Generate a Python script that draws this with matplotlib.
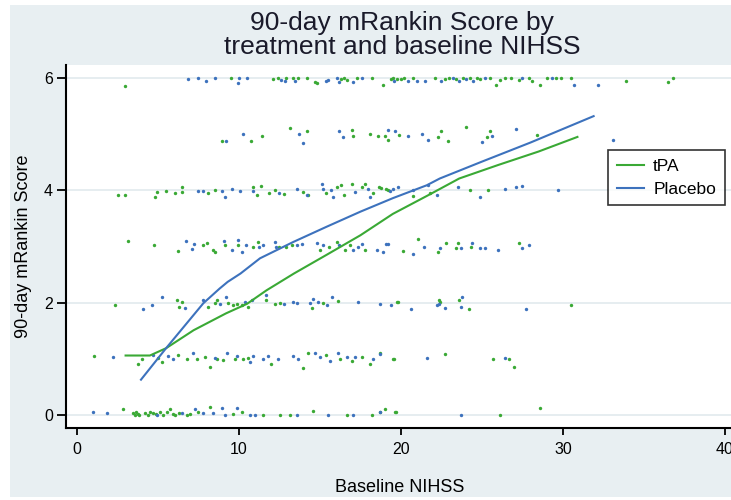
import matplotlib
matplotlib.use('Agg')
import matplotlib.pyplot as plt
from matplotlib.patches import Rectangle
import numpy as np

# jittered outcome points (baseline NIHSS, 90-day mRankin)
tpa_pts = [
    # mRS 6
    (2.96, 5.86), (9.49, 6.0), (12.1, 5.98), (12.4, 6.0), (12.9, 6.0), (13.35, 6.0), (13.66, 6.0),
    (14.18, 6.0), (14.7, 5.92), (14.83, 5.91), (16.3, 5.98), (16.5, 6.0), (16.7, 5.96), (17.26, 6.0),
    (18.2, 6.0), (18.9, 5.87), (19.5, 6.0), (19.73, 5.98), (19.4, 5.98), (20.0, 5.98), (20.2, 6.0),
    (20.76, 6.0), (22.1, 6.0), (22.7, 5.98), (23.0, 6.0), (23.4, 5.98), (23.85, 6.0), (24.26, 6.0),
    (24.7, 6.0), (24.9, 5.98), (25.5, 6.0), (25.9, 5.88), (26.1, 5.96), (26.4, 6.0), (26.8, 6.0),
    (27.3, 5.96), (27.9, 6.0), (28.1, 5.95), (28.6, 5.88), (29.0, 6.0), (29.6, 6.0), (29.9, 6.0),
    (30.5, 6.0), (33.9, 5.95), (36.5, 5.92), (36.8, 6.0),
    # mRS 5
    (8.93, 4.88), (10.76, 4.88), (11.44, 4.97), (13.15, 5.11), (14.22, 5.06), (16.95, 5.07),
    (17.06, 4.96), (18.09, 5.0), (18.6, 4.96), (19.2, 4.89), (19.0, 4.96), (19.9, 4.98), (22.3, 4.95),
    (22.5, 5.06), (22.9, 4.88), (24.0, 5.13), (25.3, 4.95), (25.5, 5.06), (28.4, 4.98),
    # mRS 4
    (2.55, 3.91), (2.96, 3.91), (4.92, 3.97), (4.82, 3.88), (5.5, 3.98), (6.05, 3.95), (6.46, 4.06),
    (6.46, 3.97), (8.1, 3.96), (8.5, 4.0), (10.84, 4.06), (11.1, 3.92), (11.35, 4.07), (11.87, 3.96),
    (12.2, 4.01), (12.78, 3.94), (13.97, 3.97), (14.28, 3.92), (15.4, 3.95), (16.03, 4.06), (16.3, 4.09),
    (16.5, 3.92), (16.95, 4.12), (17.57, 4.06), (17.78, 4.12), (18.3, 3.96), (18.66, 4.05), (18.8, 4.04),
    (19.2, 4.0), (19.1, 4.03), (20.76, 3.9), (21.8, 3.96), (24.26, 4.0), (25.4, 4.0),
    # mRS 3
    (3.17, 3.1), (4.77, 3.02), (6.21, 2.92), (7.8, 3.02), (8.0, 3.07), (8.42, 2.93), (8.52, 2.9),
    (9.14, 3.02), (9.96, 3.02), (10.88, 3.0), (11.15, 3.08), (12.5, 2.99), (12.9, 2.99), (13.25, 3.02),
    (15.0, 2.93), (15.57, 2.99), (16.03, 3.08), (16.55, 2.93), (16.85, 3.02), (17.78, 2.93), (20.1, 2.92),
    (21.07, 3.13), (22.3, 2.91), (22.8, 3.07), (23.4, 2.97), (23.5, 3.06), (24.3, 2.99), (27.3, 3.06),
    # mRS 2
    (2.35, 1.96), (6.15, 2.05), (6.46, 2.02), (6.3, 1.93), (8.1, 1.93), (8.52, 1.99), (8.62, 2.05),
    (9.34, 2.0), (9.65, 1.96), (9.86, 1.97), (10.17, 1.96), (10.57, 1.93), (11.67, 2.05), (12.22, 1.97),
    (12.53, 2.0), (14.49, 1.9), (15.2, 2.0), (16.13, 2.03), (19.73, 2.02), (19.8, 2.02), (22.36, 2.05),
    (22.4, 2.01), (23.6, 2.05), (24.2, 1.89), (30.5, 1.96),
    # mRS 1
    (1.05, 1.05), (3.79, 0.91), (4.0, 1.0), (5.02, 1.02), (5.23, 0.94), (6.26, 1.07), (6.77, 0.99),
    (7.39, 0.99), (7.9, 1.03), (8.2, 0.85), (8.62, 0.99), (9.03, 0.98), (9.75, 0.99), (10.27, 1.0),
    (10.57, 1.02), (12.0, 0.91), (13.97, 0.83), (14.28, 1.1), (15.4, 1.07), (16.23, 0.99), (16.95, 0.96),
    (17.57, 1.03), (18.1, 0.91), (19.5, 0.99), (18.7, 1.1), (19.6, 0.99), (22.7, 1.08), (25.7, 1.0),
    (26.7, 1.0), (27.0, 0.85),
    # mRS 0
    (2.82, 0.1), (3.45, 0.03), (3.55, 0.0), (3.65, 0.05), (3.75, 0.02), (3.85, 0.0), (4.2, 0.04),
    (4.4, 0.01), (4.51, 0.06), (4.71, 0.03), (4.9, 0.02), (5.12, 0.05), (5.33, 0.0), (5.53, 0.06),
    (5.74, 0.1), (5.9, 0.02), (6.05, 0.0), (6.3, 0.04), (6.77, 0.0), (7.0, 0.02), (7.49, 0.05),
    (8.2, 0.14), (9.65, 0.02), (10.17, 0.05), (11.5, 0.0), (12.53, 0.0), (13.15, 0.0), (14.59, 0.08),
    (16.65, 0.0), (18.2, 0.0), (18.7, 0.05), (19.0, 0.1), (19.63, 0.05), (19.7, 0.06), (26.1, 0.0),
    (28.6, 0.13),
]

placebo_pts = [
    # mRS 6
    (6.83, 5.98), (7.45, 6.0), (7.96, 5.94), (8.52, 6.0), (10.0, 6.0), (9.92, 5.91), (10.47, 6.0),
    (12.6, 5.97), (12.84, 5.94), (13.46, 5.95), (15.35, 5.94), (15.5, 5.97), (16.03, 6.0), (16.2, 5.93),
    (17.06, 5.93), (17.57, 6.0), (19.6, 5.95), (20.45, 5.95), (21.0, 5.94), (21.48, 5.95), (22.5, 5.95),
    (23.2, 6.0), (23.6, 5.94), (24.05, 5.98), (24.47, 5.94), (25.2, 6.0), (27.5, 6.0), (29.3, 6.0),
    (30.7, 5.88), (32.2, 5.88),
    # mRS 5
    (9.2, 4.88), (10.23, 5.0), (13.73, 5.0), (13.97, 4.85), (16.2, 5.05), (16.4, 4.95), (19.2, 5.07),
    (19.63, 5.06), (20.45, 4.97), (21.3, 5.0), (21.7, 4.89), (24.98, 4.86), (25.6, 4.97), (27.1, 5.09),
    (33.1, 4.9),
    # mRS 4
    (7.49, 3.98), (7.8, 3.98), (8.93, 3.98), (9.14, 3.88), (9.55, 4.03), (10.06, 3.99), (10.88, 3.99),
    (12.5, 3.95), (13.56, 4.03), (14.18, 3.92), (15.1, 4.12), (15.2, 4.03), (15.66, 4.0), (15.82, 3.88),
    (17.16, 3.97), (17.98, 4.03), (18.09, 3.88), (19.5, 4.03), (19.3, 3.99), (19.83, 4.06), (20.76, 4.0),
    (21.7, 4.09), (22.2, 3.92), (23.5, 4.06), (24.9, 3.88), (26.4, 4.03), (27.1, 4.05), (27.5, 4.07),
    (29.7, 4.0),
    # mRS 3
    (6.73, 3.1), (7.08, 2.96), (7.22, 3.05), (9.07, 3.1), (9.55, 2.93), (9.92, 3.11), (10.2, 2.9),
    (10.44, 3.02), (11.25, 3.0), (11.46, 3.02), (12.2, 3.08), (12.28, 2.99), (13.56, 3.02), (13.87, 3.04),
    (14.8, 3.06), (15.2, 3.02), (16.2, 3.02), (17.06, 2.93), (17.37, 3.0), (17.57, 3.05), (18.5, 2.93),
    (18.9, 2.9), (19.2, 3.04), (19.1, 3.04), (20.76, 2.87), (21.4, 3.0), (22.4, 2.98), (23.7, 2.97),
    (24.4, 3.06), (24.9, 2.98), (25.2, 2.97), (26.0, 2.93), (27.5, 2.97), (27.9, 3.03),
    # mRS 2
    (4.1, 1.88), (4.61, 1.96), (5.23, 2.1), (6.67, 1.91), (7.8, 2.05), (8.83, 1.98), (9.2, 2.11),
    (10.37, 2.02), (10.78, 2.05), (11.7, 2.14), (12.78, 1.98), (13.35, 2.02), (13.56, 1.99), (14.38, 2.0),
    (14.6, 2.07), (14.9, 2.02), (15.41, 1.96), (15.72, 2.11), (17.37, 2.02), (19.4, 1.96), (18.7, 1.98),
    (20.6, 1.89), (22.2, 1.96), (22.36, 1.98), (22.7, 1.91), (23.7, 1.92), (23.75, 2.1), (27.7, 1.89),
    # mRS 1
    (2.2, 1.03), (4.71, 1.07), (5.64, 1.06), (5.95, 0.99), (7.18, 1.1), (8.52, 1.01), (9.24, 1.1),
    (9.86, 1.06), (10.68, 0.94), (10.88, 1.05), (11.5, 1.0), (11.81, 1.06), (12.43, 0.99), (13.35, 1.05),
    (13.66, 0.99), (14.7, 1.11), (15.0, 1.03), (15.62, 0.96), (16.13, 1.11), (16.65, 1.04), (17.16, 1.04),
    (18.3, 1.0), (18.7, 1.08), (21.6, 1.02), (26.4, 1.02),
    # mRS 0
    (0.97, 0.06), (1.83, 0.03), (4.92, 0.0), (6.46, 0.03), (7.28, 0.1), (7.8, 0.03), (8.42, 0.03),
    (8.93, 0.12), (9.14, 0.0), (9.86, 0.12), (10.68, 0.0), (10.99, 0.0), (13.56, 0.0), (15.5, 0.0),
    (17.06, 0.0), (18.7, 0.05), (23.7, 0.0),
]

# smoothed curves
tpa_line_x = [3.0, 4.5, 5.5, 7.2, 9.2, 10.5, 11.7, 13.4, 15.4, 17.5, 19.5, 21.8, 23.6, 26.0, 28.5, 30.9]
tpa_line_y = [1.06, 1.06, 1.19, 1.51, 1.81, 1.98, 2.22, 2.52, 2.85, 3.2, 3.58, 3.93, 4.21, 4.45, 4.69, 4.95]
placebo_line_x = [3.95, 5.5, 7.8, 8.8, 9.3, 10.1, 11.3, 13.35, 15.4, 17.5, 19.5, 21.6, 22.4, 25.0, 28.0, 31.9]
placebo_line_y = [0.63, 1.19, 1.99, 2.25, 2.37, 2.52, 2.79, 3.08, 3.35, 3.62, 3.86, 4.09, 4.21, 4.51, 4.85, 5.32]

green = '#3aa935'
blue = '#3d72bd'
bg = '#e8eff2'
font = 'Liberation Sans'

fig = plt.figure(figsize=(7.31, 5.0), dpi=100, facecolor='white')
fig.patches.append(Rectangle((10/731, 3/500), 1, 492/500, transform=fig.transFigure,
                             facecolor=bg, edgecolor='none', zorder=-10))

# plot region: left spine at x=66px, bottom spine at y=428px, top at 65px
ax = fig.add_axes([66/731, 72/500, 675/731, 363/500])
ax.set_facecolor('white')

tx, ty = np.array(tpa_pts).T
px, py = np.array(placebo_pts).T
ax.scatter(tx, ty, s=6, color=green, linewidths=0, zorder=2)
ax.scatter(px, py, s=6, color=blue, linewidths=0, zorder=2)
ax.plot(tpa_line_x, tpa_line_y, color=green, lw=1.5, label='tPA', zorder=3)
ax.plot(placebo_line_x, placebo_line_y, color=blue, lw=1.5, label='Placebo', zorder=3)

ax.set_xlim(-0.68, 41.0)
ax.set_ylim(-0.23, 6.23)
ax.set_xticks([0, 10, 20, 30, 40])
ax.set_yticks([0, 2, 4, 6])
for y in [0, 2, 4, 6]:
    ax.axhline(y, color='#e2eaee', lw=1.2, zorder=1)

for s in ['top', 'right']:
    ax.spines[s].set_visible(False)
for s in ['left', 'bottom']:
    ax.spines[s].set_linewidth(1.5)
ax.tick_params(axis='x', direction='out', length=5, width=1.3, labelsize=11.5, pad=5)
ax.tick_params(axis='y', direction='out', length=6.5, width=1.3, labelsize=11.5, pad=3)
for lab in ax.get_xticklabels() + ax.get_yticklabels():
    lab.set_fontfamily(font)

ax.set_xlabel('Baseline NIHSS', fontsize=13, fontfamily=font, va='center')
ax.xaxis.set_label_coords(0.495, -60/363)
ax.set_ylabel('90-day mRankin Score', fontsize=13, fontfamily=font, va='center')
ax.yaxis.set_label_coords(-42/675, 0.50)

fig.text(402/731, 1 - 11/500, '90-day mRankin Score by\ntreatment and baseline NIHSS',
         ha='center', va='top', fontsize=19, fontfamily=font, color='#1a1a2a', linespacing=0.98)

leg = ax.legend(loc='upper left', bbox_to_anchor=(608/731, 1 - 150/500),
                bbox_transform=fig.transFigure, frameon=True, fancybox=False,
                prop={'family': font, 'size': 12.5}, handlelength=1.6, handletextpad=0.5,
                borderpad=0.5, labelspacing=0.45, borderaxespad=0)
leg.get_frame().set_edgecolor('black')
leg.get_frame().set_linewidth(1.2)

fig.savefig('out.png', dpi=100, facecolor=fig.get_facecolor())
